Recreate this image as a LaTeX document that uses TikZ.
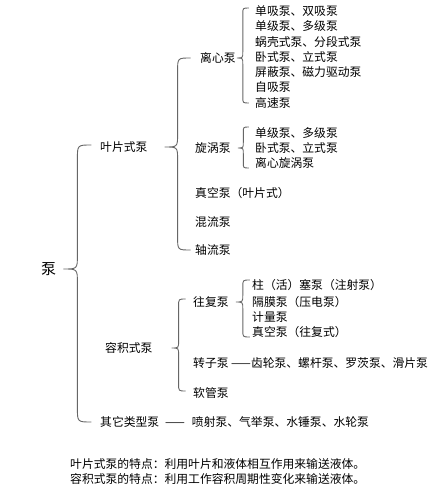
\documentclass[tikz,border=0pt]{standalone}
\usepackage{fontspec}
\setmainfont{Noto Sans CJK SC}
\usetikzlibrary{calc}

% brace from a parent label to its group: parent anchor, gap, depth, top end, bottom end
\newcommand\pumpbrace[5]{%
  \draw[brace] let \p1=($(#1)+(#2,0)$), \p2=(#4), \p3=(#5) in
    (\x1+2*#3,\y2) .. controls (\x1+#3,\y2) .. (\x1+#3,\y2-#3)
    -- (\x1+#3,\y1+#3) .. controls (\x1+#3,\y1) .. (\x1,\y1)
    .. controls (\x1+#3,\y1) .. (\x1+#3,\y1-#3)
    -- (\x1+#3,\y3+#3) .. controls (\x1+#3,\y3) .. (\x1+2*#3,\y3);}

\begin{document}
\begin{tikzpicture}[x=1pt, y=-1pt,
    item/.style={anchor=west, inner sep=0pt, font=\fontsize{11.8}{14}\selectfont},
    root/.style={item, font=\fontsize{15}{18}\selectfont},
    brace/.style={draw=black!60, line width=0.9pt}
  ]
  \fill[white] (0,0) rectangle (444,495);
  \useasboundingbox (0,0) rectangle (444,495);

  % root and first level
  \node[root] (pump) at (41,269) {泵};
  \node[item] (vane) at (100,147) {叶片式泵};
  \node[item] (disp) at (105,348) {容积式泵};
  \node[item] (other) at (100,422) {其它类型泵\hspace{0.5em}——\hspace{0.6em}喷射泵、气举泵、水锤泵、水轮泵};

  % vane pumps
  \node[item] (cent) at (200,58) {离心泵};
  \node[item] (vort) at (195,148) {旋涡泵};
  \node[item] (vacv) at (195,193) {真空泵（叶片式）};
  \node[item] (mixed) at (195,222) {混流泵};
  \node[item] (axial) at (195,250) {轴流泵};

  \node[item] (c1) at (255,11) {单吸泵、双吸泵};
  \node[item] (c2) at (255,26) {单级泵、多级泵};
  \node[item] (c3) at (255,42) {蜗壳式泵、分段式泵};
  \node[item] (c4) at (255,57) {卧式泵、立式泵};
  \node[item] (c5) at (255,72) {屏蔽泵、磁力驱动泵};
  \node[item] (c6) at (255,87) {自吸泵};
  \node[item] (c7) at (255,103) {高速泵};

  \node[item] (v1) at (255,133) {单级泵、多级泵};
  \node[item] (v2) at (255,148) {卧式泵、立式泵};
  \node[item] (v3) at (255,163) {离心旋涡泵};

  % displacement pumps
  \node[item] (recip) at (193,302) {往复泵};
  \node[item] (rotor) at (193,363) {转子泵 ——齿轮泵、螺杆泵、罗茨泵、滑片泵};
  \node[item] (hose) at (193,393) {软管泵};

  \node[item] (r1) at (252,285) {柱（活）塞泵（注射泵）};
  \node[item] (r2) at (252,302) {隔膜泵（压电泵）};
  \node[item] (r3) at (252,317) {计量泵};
  \node[item] (r4) at (252,332) {真空泵（往复式）};

  % notes
  \node[item] (note1) at (70,464) {叶片式泵的特点：利用叶片和液体相互作用来输送液体。};
  \node[item] (note2) at (70,479) {容积式泵的特点：利用工作容积周期性变化来输送液体。};

  % braces
  \pumpbrace{pump.east}{7}{14}{$(vane.west)+(0,-2)$}{other.west}
  \pumpbrace{vane.east}{17}{13}{cent.west}{axial.west}
  \pumpbrace{cent.east}{1}{6}{$(c1.west)+(0,-3)$}{c7.west}
  \pumpbrace{vort.east}{7}{5.5}{$(v1.west)+(0,-6)$}{$(v3.west)+(0,5)$}
  \pumpbrace{disp.east}{19}{7}{$(recip.west)+(0,-3)$}{$(hose.west)+(0,-2)$}
  \pumpbrace{recip.east}{7}{7}{$(r1.west)+(0,-5)$}{$(r4.west)+(0,5)$}
\end{tikzpicture}
\end{document}
